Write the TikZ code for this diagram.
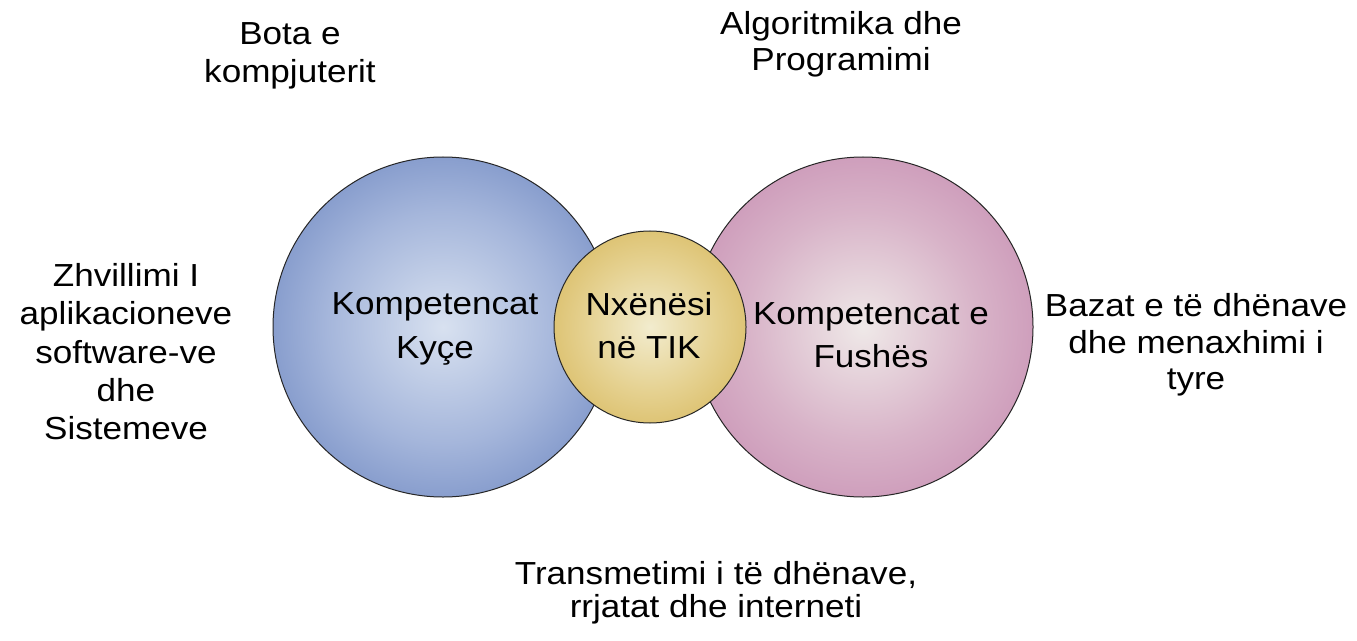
\documentclass[tikz,border=0pt]{standalone}
\usepackage{fontspec}
\setmainfont[FakeStretch=1.1]{Liberation Sans}
\definecolor{bluec}{HTML}{D8E1F0}
\definecolor{bluem}{HTML}{A5B6DB}
\definecolor{bluee}{HTML}{6580BD}
\definecolor{pinkc}{HTML}{EFE9E8}
\definecolor{pinkm}{HTML}{D8B3C8}
\definecolor{pinke}{HTML}{C385AD}
\definecolor{yelc}{HTML}{F2ECCE}
\definecolor{yelm}{HTML}{E5D190}
\definecolor{yele}{HTML}{D5B454}
\pgfdeclareradialshading{blueball}{\pgfpoint{0bp}{0bp}}{color(0bp)=(bluec); color(17bp)=(bluem); color(35bp)=(bluee); color(50bp)=(bluee)}
\pgfdeclareradialshading{pinkball}{\pgfpoint{0bp}{0bp}}{color(0bp)=(pinkc); color(17bp)=(pinkm); color(35bp)=(pinke); color(50bp)=(pinke)}
\pgfdeclareradialshading{yelball}{\pgfpoint{0bp}{0bp}}{color(0bp)=(yelc); color(17bp)=(yelm); color(35bp)=(yele); color(50bp)=(yele)}
\begin{document}
\begin{tikzpicture}[x=1bp,y=-1bp,
  ball/.style={circle, draw=black!85, line width=1bp, inner sep=0pt},
  lbl/.style={align=center, inner sep=0pt, text=black}]
\useasboundingbox[fill=white] (0,0) rectangle (1357,641);
% circles
\node[ball, shading=blueball, minimum size=340bp] (kyce) at (443,327) {};
\node[ball, shading=pinkball, minimum size=340bp] (fushe) at (863,327) {};
\node[ball, shading=yelball, minimum size=192bp] (nx) at (650,327) {};
% circle texts
\node[lbl, font=\fontsize{32}{44}\selectfont] (tkyce) at (435,329) {Kompetencat\\Kyçe};
\node[lbl, font=\fontsize{32}{43.3}\selectfont] (tnx) at (649,326) {Nxënësi\\në TIK};
\node[lbl, font=\fontsize{32}{43}\selectfont] (tfushe) at (871,335) {Kompetencat e\\Fushës};
% outer labels
\node[lbl, font=\fontsize{32}{38}\selectfont] (bota) at (290,56) {Bota e\\kompjuterit};
\node[lbl, font=\fontsize{32}{35.7}\selectfont] (algo) at (841,44.5) {Algoritmika dhe\\Programimi};
\node[lbl, font=\fontsize{32}{38.3}\selectfont] (zhv) at (126,351.7) {Zhvillimi I\\aplikacioneve\\software-ve\\dhe\\Sistemeve};
\node[lbl, font=\fontsize{32}{36.7}\selectfont] (baz) at (1196,345) {Bazat e të dhënave\\dhe menaxhimi i\\tyre};
\node[lbl, font=\fontsize{32}{33.3}\selectfont] (trans) at (716,593) {Transmetimi i të dhënave,\\rrjatat dhe interneti};
\end{tikzpicture}
\end{document}
